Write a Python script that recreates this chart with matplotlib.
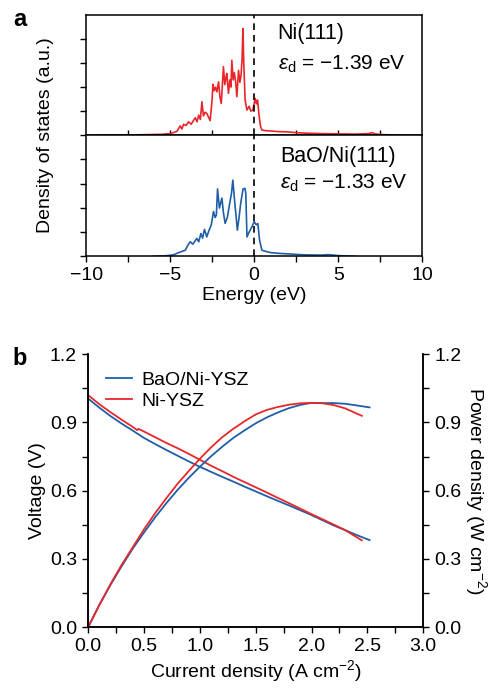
import matplotlib
matplotlib.use("Agg")
import matplotlib.pyplot as plt
from matplotlib.ticker import MultipleLocator, FixedLocator, NullFormatter

plt.rcParams['font.family'] = ['Liberation Sans', 'DejaVu Sans']
plt.rcParams['mathtext.fontset'] = 'custom'
plt.rcParams['mathtext.rm'] = 'Liberation Sans'
plt.rcParams['mathtext.it'] = 'Liberation Sans:italic'
plt.rcParams['axes.linewidth'] = 1.1

RED = '#e8272b'
BLUE = '#1f5ea8'

# ---- panel a: d-band density of states
ni_energy = [-9.2, -7.0, -5.5, -5.0, -4.6, -4.4, -4.3, -4.2, -4.05, -3.9, -3.75, -3.6,
             -3.5, -3.4, -3.3, -3.2, -3.11, -3.02, -2.92, -2.82, -2.72, -2.62, -2.5,
             -2.46, -2.38, -2.3, -2.22, -2.12, -2.04, -1.96, -1.9, -1.83, -1.75, -1.68,
             -1.63, -1.53, -1.45, -1.38, -1.33, -1.25, -1.18, -1.1, -1.03, -0.93, -0.85,
             -0.78, -0.72, -0.67, -0.62, -0.54, -0.43, -0.3, -0.2, -0.08, 0.06, 0.13,
             0.2, 0.3, 0.38, 0.46, 0.7, 1.0, 1.3, 1.6, 2.0, 2.5, 3.0, 3.5, 4.0, 5.0,
             6.0, 6.8, 7.0, 7.2, 7.5, 8.5]
ni_dos = [0.0, 0.01, 0.03, 0.06, 0.15, 0.38, 0.25, 0.45, 0.4, 0.55, 0.45, 0.62,
          0.72, 0.55, 0.83, 0.65, 1.39, 0.8, 0.95, 0.9, 0.75, 0.6, 1.5,
          2.12, 1.85, 2.0, 1.8, 2.22, 1.6, 1.32, 2.0, 2.85, 2.1, 2.4,
          2.57, 1.74, 2.3, 2.0, 3.12, 2.3, 2.6, 2.2, 1.6, 2.7, 2.2,
          2.5, 3.2, 4.44, 3.0, 1.46, 1.04, 1.2, 1.0, 1.04, 1.53, 1.3,
          1.46, 0.76, 0.35, 0.21, 0.18, 0.17, 0.15, 0.14, 0.13, 0.1, 0.08, 0.07, 0.06, 0.05,
          0.04, 0.06, 0.1, 0.05, 0.02, 0.0]

bao_energy = [-6.0, -5.3, -4.8, -4.5, -4.3, -4.1, -3.95, -3.81, -3.65, -3.5, -3.41, -3.3,
              -3.17, -3.07, -2.96, -2.82, -2.7, -2.55, -2.42, -2.32, -2.25, -2.18, -2.07,
              -1.92, -1.83, -1.73, -1.6, -1.45, -1.35, -1.27, -1.18, -1.0, -0.9, -0.8,
              -0.66, -0.55, -0.5, -0.43, -0.3, -0.13, 0.0, 0.12, 0.22, 0.32, 0.46, 0.7,
              1.0, 1.5, 2.0, 2.5, 3.0, 4.0, 4.4, 5.0, 6.0]
bao_dos = [0.0, 0.02, 0.06, 0.15, 0.2, 0.25, 0.45, 0.6, 0.5, 0.65, 0.74, 0.6,
           0.94, 0.75, 1.11, 0.8, 1.05, 1.3, 1.85, 1.6, 1.7, 2.78, 1.99,
           2.4, 1.8, 1.36, 1.6, 2.2, 2.6, 3.14, 2.4, 1.08, 1.6, 2.2,
           2.78, 2.8, 2.6, 0.8, 1.0, 1.22, 1.43, 1.3, 1.35, 0.67, 0.25, 0.2,
           0.15, 0.12, 0.1, 0.08, 0.06, 0.05, 0.07, 0.03, 0.0]

# ---- panel b: fuel cell performance
bao_current = [0.0, 0.1, 0.2, 0.3, 0.4, 0.5, 0.6, 0.7, 0.8, 0.9, 1.0, 1.1, 1.2, 1.3,
               1.4, 1.5, 1.6, 1.7, 1.8, 1.9, 2.0, 2.1, 2.2, 2.3, 2.4, 2.52]
bao_voltage = [1.005, 0.965, 0.928, 0.895, 0.864, 0.832, 0.805, 0.779, 0.754, 0.729,
               0.705, 0.683, 0.661, 0.640, 0.618, 0.597, 0.576, 0.555, 0.535, 0.514,
               0.493, 0.470, 0.447, 0.427, 0.406, 0.383]
bao_power = [0.0, 0.097, 0.186, 0.268, 0.346, 0.416, 0.483, 0.545, 0.603, 0.656,
             0.705, 0.751, 0.793, 0.832, 0.865, 0.896, 0.922, 0.944, 0.963, 0.977,
             0.986, 0.985, 0.985, 0.982, 0.975, 0.966]

ni_current_v = [0.0, 0.1, 0.2, 0.3, 0.4, 0.44, 0.45, 0.5, 0.6, 0.7, 0.8, 0.9, 1.0, 1.1,
                1.2, 1.3, 1.4, 1.5, 1.6, 1.7, 1.8, 1.9, 2.0, 2.1, 2.2, 2.3, 2.45]
ni_voltage = [1.02, 0.98, 0.945, 0.912, 0.88, 0.866, 0.872, 0.86, 0.835, 0.81, 0.787,
              0.762, 0.736, 0.71, 0.686, 0.661, 0.638, 0.615, 0.592, 0.568, 0.545,
              0.521, 0.497, 0.474, 0.451, 0.427, 0.382]
ni_current_p = [0.0, 0.1, 0.2, 0.3, 0.4, 0.5, 0.6, 0.7, 0.8, 0.9, 1.0, 1.1, 1.2, 1.3,
                1.4, 1.5, 1.6, 1.7, 1.8, 1.9, 2.0, 2.1, 2.2, 2.3, 2.45]
ni_power = [0.0, 0.098, 0.189, 0.274, 0.352, 0.430, 0.501, 0.567, 0.630, 0.686, 0.74,
            0.79, 0.835, 0.872, 0.905, 0.935, 0.955, 0.968, 0.978, 0.984, 0.986,
            0.984, 0.976, 0.962, 0.929]

fig = plt.figure(figsize=(4.95, 6.89), dpi=100)
FS = 14

# panel a axes
ax_top = fig.add_axes([0.174, 0.804, 0.679, 0.174])
ax_bot = fig.add_axes([0.174, 0.628, 0.679, 0.176])

ax_top.plot(ni_energy, ni_dos, color=RED, lw=1.2)
ax_bot.plot(bao_energy, bao_dos, color=BLUE, lw=1.2)

for ax in (ax_top, ax_bot):
    ax.set_xlim(-10, 10)
    ax.set_ylim(0, 5)
    ax.axvline(0, color='black', lw=1.2, ls=(0, (4, 3)))
    ax.yaxis.set_major_locator(FixedLocator([0, 1, 2, 3, 4]))
    ax.yaxis.set_major_formatter(NullFormatter())
    ax.tick_params(axis='y', direction='out', length=4.5, width=1.0)

ax_top.xaxis.set_major_locator(FixedLocator([-7.5, -5, -2.5, 2.5, 5, 7.5]))
ax_top.tick_params(axis='x', direction='in', length=3.5, width=1.0, labelbottom=False)

ax_bot.xaxis.set_major_locator(MultipleLocator(5))
ax_bot.xaxis.set_minor_locator(MultipleLocator(2.5))
ax_bot.tick_params(axis='x', which='both', direction='out', length=4.5, width=1.0,
                   labelsize=FS, pad=3)
ax_bot.set_xlabel('Energy (eV)', fontsize=FS, labelpad=2)

ax_top.text(1.4, 4.25, 'Ni(111)', fontsize=15.5, va='center')
ax_top.text(1.4, 2.95, r'$\varepsilon_{\rm d}$ = −1.39 eV', fontsize=15, va='center')
ax_bot.text(1.55, 4.1, 'BaO/Ni(111)', fontsize=15.5, va='center')
ax_bot.text(1.55, 3.0, r'$\varepsilon_{\rm d}$ = −1.33 eV', fontsize=15, va='center')

fig.text(0.091, 0.804, 'Density of states (a.u.)', fontsize=FS, rotation=90,
         ha='center', va='center')
fig.text(0.04, 0.972, 'a', fontsize=17, fontweight='bold', ha='center', va='center')

# panel b axes
ax_v = fig.add_axes([0.178, 0.0896, 0.677, 0.3964])
ax_p = ax_v.twinx()

ax_v.plot(bao_current, bao_voltage, color=BLUE, lw=1.3, label='BaO/Ni-YSZ')
ax_v.plot(ni_current_v, ni_voltage, color=RED, lw=1.3, label='Ni-YSZ')
ax_p.plot(bao_current, bao_power, color=BLUE, lw=1.3)
ax_p.plot(ni_current_p, ni_power, color=RED, lw=1.3)

ax_v.set_xlim(0, 3)
for ax in (ax_v, ax_p):
    ax.set_ylim(0, 1.2)
    ax.yaxis.set_major_locator(MultipleLocator(0.3))
    ax.yaxis.set_minor_locator(MultipleLocator(0.15))
    ax.spines['top'].set_visible(False)
    ax.tick_params(which='both', direction='out', length=4.5, width=1.0, labelsize=FS)
ax_v.xaxis.set_major_locator(MultipleLocator(0.5))
ax_v.xaxis.set_minor_locator(MultipleLocator(0.25))
ax_v.yaxis.set_major_formatter(plt.FormatStrFormatter('%.1f'))
ax_p.yaxis.set_major_formatter(plt.FormatStrFormatter('%.1f'))
ax_v.xaxis.set_major_formatter(plt.FormatStrFormatter('%.1f'))

ax_v.set_xlabel('Current density (A cm$^{-2}$)', fontsize=FS, labelpad=2)
ax_v.set_ylabel('Voltage (V)', fontsize=FS, labelpad=3)
ax_p.set_ylabel('Power density (W cm$^{-2}$)', fontsize=FS, rotation=270, labelpad=20)

ax_v.legend(loc='upper left', bbox_to_anchor=(0.0, 1.0), frameon=False, fontsize=FS,
            handlelength=1.35, handletextpad=0.5, labelspacing=0.15, borderaxespad=0.5)

fig.text(0.04, 0.48, 'b', fontsize=17, fontweight='bold', ha='center', va='center')

fig.savefig('out.png', dpi=100)
